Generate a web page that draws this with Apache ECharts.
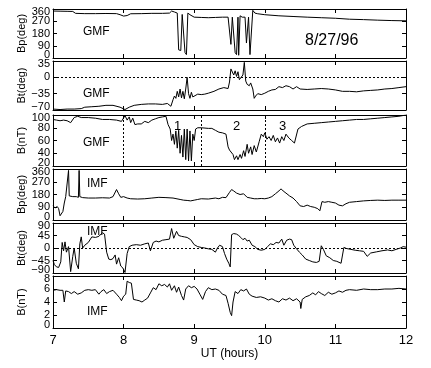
<!DOCTYPE html>
<html>
<head>
<meta charset="utf-8">
<script src="https://cdn.jsdelivr.net/npm/echarts@6/dist/echarts.min.js"></script>
<style>html,body{margin:0;padding:0;background:#fff;}#c{width:431px;height:368px;}</style>
</head>
<body>
<div id="c"></div>
<script>
// ---- Panel 1: GMF Bp (deg)
const gmfBpT = [7.00,7.10,7.20,7.28,7.32,7.45,7.60,7.75,7.90,7.95,8.00,8.05,8.10,8.25,8.40,8.55,8.65,8.68,8.72,8.74,8.76,8.78,8.81,8.83,8.85,8.87,8.89,8.91,8.94,9.00,9.10,9.20,9.30,9.40,9.48,9.50,9.52,9.54,9.56,9.58,9.60,9.62,9.63,9.65,9.68,9.72,9.74,9.76,9.77,9.79,9.81,9.83,9.86,9.90,10.0,10.2,10.4,10.6,10.8,11.0,11.2,11.4,11.6,11.8,12.0];
const gmfBpV = [345,344,343,342,328,326,326,327,326,318,308,312,325,326,328,328,330,345,338,350,330,60,55,320,322,40,25,330,318,300,298,296,298,300,300,290,100,300,302,40,25,300,20,310,300,300,110,100,300,25,20,350,330,325,318,310,305,300,296,292,285,282,278,275,273];
// ---- Panel 2: GMF Bt (deg)
const gmfBtT = [7.00,7.10,7.20,7.30,7.40,7.45,7.55,7.65,7.75,7.85,7.95,8.02,8.08,8.15,8.25,8.35,8.45,8.55,8.62,8.67,8.70,8.72,8.74,8.76,8.78,8.80,8.82,8.84,8.86,8.88,8.90,8.92,8.94,8.96,8.98,9.00,9.05,9.10,9.15,9.20,9.28,9.35,9.42,9.48,9.50,9.52,9.54,9.56,9.58,9.60,9.62,9.64,9.66,9.69,9.71,9.73,9.75,9.78,9.80,9.83,9.85,9.87,9.90,9.95,10.00,10.05,10.10,10.15,10.20,10.25,10.30,10.35,10.40,10.45,10.50,10.60,10.70,10.80,10.90,11.00,11.10,11.20,11.30,11.40,11.50,11.60,11.70,11.80,11.90,12.00];
const gmfBtV = [-68,-69,-68,-68,-67,-64,-63,-62,-60,-60,-64,-69,-64,-60,-58,-57,-57,-58,-56,-62,-48,-40,-45,-30,-42,-25,-44,-30,-46,-25,0,-35,-45,-32,-42,-38,-36,-37,-36,-34,-30,-25,-22,-24,-10,18,15,5,14,2,12,-5,-3,5,32,-8,-15,-18,-12,-25,-45,-40,-35,-37,-34,-30,-27,-26,-20,-22,-18,-20,-25,-20,-25,-26,-25,-24,-25,-27,-30,-30,-31,-29,-28,-27,-25,-24,-22,-20];
// ---- Panel 3: GMF B (nT)
const gmfBT = [7.00,7.05,7.10,7.15,7.20,7.25,7.30,7.35,7.40,7.50,7.60,7.70,7.80,7.90,7.97,8.02,8.05,8.08,8.10,8.13,8.16,8.20,8.25,8.30,8.35,8.40,8.45,8.50,8.55,8.60,8.63,8.66,8.68,8.70,8.72,8.74,8.76,8.78,8.80,8.82,8.84,8.86,8.88,8.90,8.92,8.94,8.96,8.98,9.00,9.02,9.05,9.10,9.20,9.25,9.30,9.35,9.40,9.45,9.48,9.50,9.52,9.55,9.57,9.60,9.62,9.65,9.67,9.70,9.72,9.75,9.77,9.80,9.82,9.85,9.88,9.92,9.95,9.98,10.00,10.03,10.06,10.09,10.12,10.15,10.18,10.21,10.24,10.27,10.30,10.34,10.38,10.42,10.47,10.52,10.60,10.70,10.80,10.90,11.00,11.10,11.20,11.30,11.40,11.50,11.60,11.70,11.80,11.90,12.00];
const gmfBV = [93,92,91,92,91,88,96,98,96,96,95,93,93,92,90,99,92,97,88,95,85,86,86,90,88,92,94,96,97,98,85,78,60,70,54,75,48,76,40,68,34,78,30,78,28,75,28,70,60,78,80,80,79,79,76,73,72,70,50,45,42,38,30,36,30,38,32,44,35,54,40,50,38,52,42,58,70,66,72,62,66,60,68,58,64,56,66,60,70,64,60,56,78,82,86,87,88,89,90,91,92,93,93,94,95,96,97,98,100];
// ---- Panel 4: IMF Bp (deg)
const imfBpT = [7.00,7.03,7.06,7.08,7.10,7.12,7.14,7.16,7.18,7.20,7.22,7.23,7.25,7.28,7.30,7.33,7.36,7.37,7.38,7.42,7.50,7.60,7.70,7.80,7.85,7.90,7.93,7.96,8.00,8.05,8.10,8.20,8.30,8.40,8.50,8.60,8.70,8.80,8.85,8.90,8.95,9.00,9.05,9.10,9.20,9.30,9.35,9.40,9.45,9.50,9.53,9.56,9.60,9.65,9.70,9.75,9.80,9.85,9.90,9.95,10.00,10.05,10.10,10.15,10.20,10.23,10.26,10.30,10.35,10.40,10.45,10.50,10.55,10.60,10.65,10.70,10.75,10.78,10.81,10.85,10.90,10.95,11.00,11.05,11.10,11.15,11.20,11.30,11.40,11.50,11.60,11.70,11.80,11.90,12.00];
const imfBpV = [100,85,95,80,30,25,60,120,165,160,350,170,160,165,160,165,160,350,165,158,155,155,157,155,165,215,185,160,165,155,150,148,150,155,160,158,155,145,140,138,135,140,145,150,148,155,150,160,158,195,215,205,190,180,185,160,155,150,150,152,150,155,165,185,205,220,205,190,170,155,130,100,95,105,95,90,80,65,130,125,130,125,120,105,100,115,125,130,135,138,140,138,140,140,140];
// ---- Panel 5: IMF Bt (deg)
const imfBtT = [7.00,7.02,7.05,7.08,7.11,7.13,7.15,7.17,7.19,7.22,7.25,7.28,7.30,7.33,7.36,7.38,7.40,7.42,7.45,7.50,7.55,7.60,7.65,7.70,7.73,7.76,7.79,7.82,7.85,7.88,7.90,7.93,7.96,7.99,8.02,8.05,8.08,8.12,8.18,8.24,8.30,8.35,8.38,8.42,8.46,8.50,8.55,8.60,8.65,8.68,8.71,8.75,8.78,8.82,8.86,8.90,8.95,9.00,9.05,9.10,9.15,9.20,9.25,9.30,9.33,9.36,9.40,9.43,9.46,9.49,9.51,9.53,9.56,9.60,9.63,9.66,9.69,9.72,9.75,9.78,9.82,9.86,9.90,9.95,10.00,10.04,10.08,10.12,10.16,10.20,10.24,10.27,10.31,10.35,10.38,10.41,10.45,10.49,10.53,10.58,10.63,10.68,10.73,10.77,10.80,10.83,10.87,10.92,10.97,11.02,11.08,11.12,11.16,11.22,11.28,11.34,11.40,11.45,11.50,11.58,11.66,11.74,11.80,11.86,11.92,11.96,12.00];
const imfBtV = [-45,-60,-68,-70,-50,20,-10,22,-15,5,-85,-30,0,-55,-75,15,40,0,10,20,40,38,42,55,50,-15,-40,-42,-38,-25,-58,-35,-65,-72,-88,-20,5,10,12,10,15,18,-10,20,25,22,28,30,32,70,35,60,45,42,40,38,30,12,5,2,0,-3,-5,-15,0,10,5,-20,-40,-55,-68,48,52,50,45,38,30,35,25,28,10,5,-5,-8,-5,5,15,12,20,18,32,10,28,32,30,10,-3,-15,-25,-40,-45,-50,-52,-48,8,-5,-28,-35,-45,-48,-55,2,-2,-5,-8,-10,-12,-30,-18,-14,-10,-7,-10,-5,0,5,3];
// ---- Panel 6: IMF B (nT)
const imfBT = [7.00,7.05,7.10,7.14,7.16,7.18,7.22,7.26,7.30,7.35,7.40,7.45,7.50,7.55,7.60,7.65,7.68,7.72,7.76,7.80,7.85,7.90,7.94,7.97,8.00,8.03,8.05,8.08,8.11,8.14,8.18,8.22,8.26,8.30,8.34,8.38,8.42,8.46,8.50,8.54,8.58,8.62,8.65,8.68,8.72,8.75,8.78,8.82,8.85,8.88,8.92,8.96,9.00,9.04,9.08,9.12,9.16,9.20,9.25,9.30,9.35,9.40,9.45,9.48,9.51,9.53,9.55,9.58,9.62,9.66,9.70,9.74,9.78,9.82,9.88,9.94,10.00,10.05,10.10,10.15,10.20,10.25,10.30,10.35,10.40,10.45,10.50,10.51,10.53,10.58,10.63,10.68,10.72,10.76,10.80,10.85,10.90,10.95,11.00,11.05,11.10,11.15,11.20,11.30,11.40,11.50,11.60,11.70,11.80,11.90,12.00];
const imfBV = [5.8,5.9,5.8,5.8,4.0,5.7,5.6,5.3,5.6,5.2,5.4,5.8,5.9,5.8,5.9,5.2,5.6,5.9,5.3,5.6,5.8,5.2,4.7,4.2,4.9,5.2,7.2,7.0,6.9,4.4,4.3,4.2,4.0,4.3,4.6,5.4,6.2,5.9,6.8,6.5,6.7,6.3,6.8,5.8,6.5,5.5,6.3,5.0,4.3,6.0,6.5,6.2,6.4,6.0,5.2,4.4,5.6,6.2,5.9,6.0,5.8,5.2,5.0,3.8,2.4,1.9,4.0,5.6,5.3,5.9,5.7,6.0,5.2,4.9,4.7,4.8,4.6,4.3,4.5,4.2,4.0,4.5,4.3,4.6,4.2,4.5,4.0,3.0,4.4,4.8,5.0,5.4,5.1,5.6,5.3,5.0,5.5,5.2,5.4,5.7,5.5,5.8,5.9,5.8,6.0,5.9,5.9,6.0,6.0,6.1,6.0];

const xTicks = [7, 8, 9, 10, 11, 12];
const dashTimes = [8.0, 9.1, 10.0];

const FONT = 'Liberation Sans';
const panels = [
  {t: gmfBpT, v: gmfBpV, name: 'Bp(deg)', min: 0, max: 360, step: 90, top: 9, h: 49},
  {t: gmfBtT, v: gmfBtV, name: 'Bt(deg)', min: -70, max: 35, step: 35, top: 61, h: 49, zero: true},
  {t: gmfBT, v: gmfBV, name: 'B(nT)', min: 20, max: 100, step: 20, top: 115, h: 51, vlines: dashTimes},
  {t: imfBpT, v: imfBpV, name: 'Bp(deg)', min: 0, max: 360, step: 90, top: 169, h: 51},
  {t: imfBtT, v: imfBtV, name: 'Bt(deg)', min: -90, max: 90, step: 45, top: 223, h: 50, zero: true},
  {t: imfBT, v: imfBV, name: 'B(nT)', min: 0, max: 8, step: 2, top: 276, h: 52}
];

const fmt = v => String(v).replace('-', '\u2212');
const grid = [], xAxis = [], yAxis = [], series = [];
panels.forEach((p, i) => {
  grid.push({left: 53, right: 25, top: p.top, height: p.h, show: false});
  const last = i === panels.length - 1;
  const tickStyle = {show: true, inside: true, length: 4, lineStyle: {color: '#000', width: 1}};
  xAxis.push({
    type: 'value', gridIndex: i, min: 7, max: 12, interval: 1, position: 'bottom',
    axisLine: {show: true, onZero: false, lineStyle: {color: '#000', width: 1}},
    axisTick: tickStyle, splitLine: {show: false},
    axisLabel: {show: last, color: '#000', fontFamily: FONT, fontSize: 13, margin: 6,
      showMinLabel: true, showMaxLabel: true},
    name: last ? 'UT (hours)' : '', nameLocation: 'middle', nameGap: 20, nameMoveOverlap: false,
    nameTextStyle: {color: '#000', fontFamily: FONT, fontSize: 12}
  });
  xAxis.push({
    type: 'value', gridIndex: i, min: 7, max: 12, interval: 1, position: 'top',
    axisLine: {show: true, onZero: false, lineStyle: {color: '#000', width: 1}},
    axisTick: tickStyle, splitLine: {show: false}, axisLabel: {show: false}
  });
  // main left axis: line, ticks, inner labels, name
  yAxis.push({
    type: 'value', gridIndex: i, min: p.min, max: p.max, interval: p.step, position: 'left',
    axisLine: {show: true, onZero: false, lineStyle: {color: '#000', width: 1}},
    axisTick: tickStyle, splitLine: {show: false},
    axisLabel: {color: '#000', fontFamily: FONT, fontSize: 11, margin: 3,
      showMinLabel: false, showMaxLabel: false, formatter: fmt},
    name: p.name, nameLocation: 'middle', nameGap: 26, nameRotate: 90, nameMoveOverlap: false,
    nameTextStyle: {color: '#000', fontFamily: FONT, fontSize: 11}
  });
  // right axis: frame + ticks
  yAxis.push({
    type: 'value', gridIndex: i, min: p.min, max: p.max, interval: p.step, position: 'right',
    axisLine: {show: true, onZero: false, lineStyle: {color: '#000', width: 1}},
    axisTick: tickStyle, splitLine: {show: false}, axisLabel: {show: false}
  });
  // helper left axis: only the end labels, nudged inside the frame
  const lab = {color: '#000', fontFamily: FONT, fontSize: 11};
  yAxis.push({
    type: 'value', gridIndex: i, min: p.min, max: p.max, interval: p.max - p.min, position: 'left',
    axisLine: {show: false}, axisTick: {show: false}, splitLine: {show: false},
    axisLabel: {margin: 3, showMinLabel: true, showMaxLabel: true,
      formatter: v => (v === p.max ? '{hi|' : '{lo|') + fmt(v) + '}',
      rich: {
        hi: Object.assign({padding: [5, 0, 0, 0]}, lab),
        lo: Object.assign({padding: [0, 0, 7, 0]}, lab)
      }}
  });
  const ml = [];
  if (p.zero) ml.push({yAxis: 0});
  if (p.vlines) p.vlines.forEach(x => ml.push({xAxis: x}));
  series.push({
    type: 'line', xAxisIndex: 2 * i, yAxisIndex: 3 * i,
    data: p.t.map((t, k) => [t, p.v[k]]),
    showSymbol: false, symbol: 'none', animation: false,
    lineStyle: {color: '#000', width: 1},
    markLine: ml.length ? {
      silent: true, symbol: 'none', animation: false, label: {show: false},
      lineStyle: {color: '#000', width: 1, type: [2, 2]},
      data: ml
    } : undefined
  });
});

const txt = (x, y, s, size) => ({type: 'text', left: x, top: y,
  style: {text: s, fill: '#000', font: size + 'px ' + FONT}});
const graphic = [
  txt(83, 26, 'GMF', 12), txt(83, 88, 'GMF', 12), txt(83, 137, 'GMF', 12),
  txt(87, 178, 'IMF', 12), txt(87, 226, 'IMF', 12), txt(87, 306, 'IMF', 12),
  txt(305, 33, '8/27/96', 16),
  txt(174, 120, '1', 13), txt(233, 120, '2', 13), txt(279, 120, '3', 13)
];

const chart = echarts.init(document.getElementById('c'), null, {renderer: 'canvas'});
chart.setOption({
  backgroundColor: '#fff', animation: false,
  grid, xAxis, yAxis, series, graphic
});
</script>
</body>
</html>
